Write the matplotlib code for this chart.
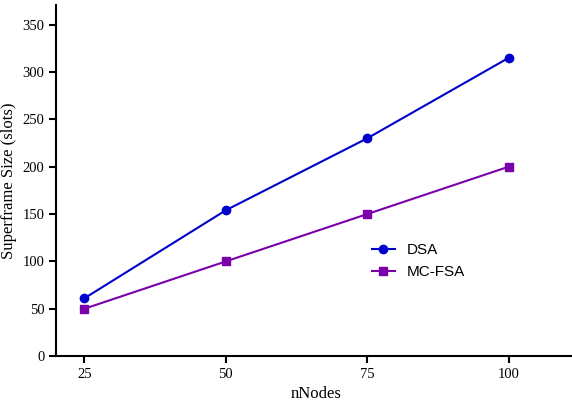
import matplotlib
matplotlib.use('Agg')
import matplotlib.pyplot as plt

# Data
nodes = [25, 50, 75, 100]
dsa = [61, 154, 230, 315]
mcfsa = [50, 100, 150, 200]

plt.rcParams['font.family'] = 'Liberation Serif'

fig = plt.figure(figsize=(5.72, 4.01), dpi=100)
ax = fig.add_axes([0.098, 0.112, 0.91, 0.876])

ax.plot(nodes, dsa, marker='o', color='#0000CC', lw=1.5, ms=6, label='DSA')
ax.plot(nodes, mcfsa, marker='s', color='#7A00AA', lw=1.5, ms=6, label='MC-FSA')

ax.set_xlim(20, 112)
ax.set_ylim(0, 371)
ax.set_xticks(nodes)
ax.set_yticks(range(0, 351, 50))
ax.tick_params(direction='out', length=5, width=1.5, labelsize=10.5)

for s in ['top', 'right']:
    ax.spines[s].set_visible(False)
for s in ['left', 'bottom']:
    ax.spines[s].set_linewidth(1.5)

ax.set_xlabel('nNodes', fontsize=12)
ax.set_ylabel('Superframe Size (slots)', fontsize=12)

ax.legend(loc='upper left', bbox_to_anchor=(0.58, 0.36), frameon=False,
          prop={'family': 'Liberation Sans', 'size': 11}, handlelength=1.5)

plt.savefig('out.png', dpi=100)
